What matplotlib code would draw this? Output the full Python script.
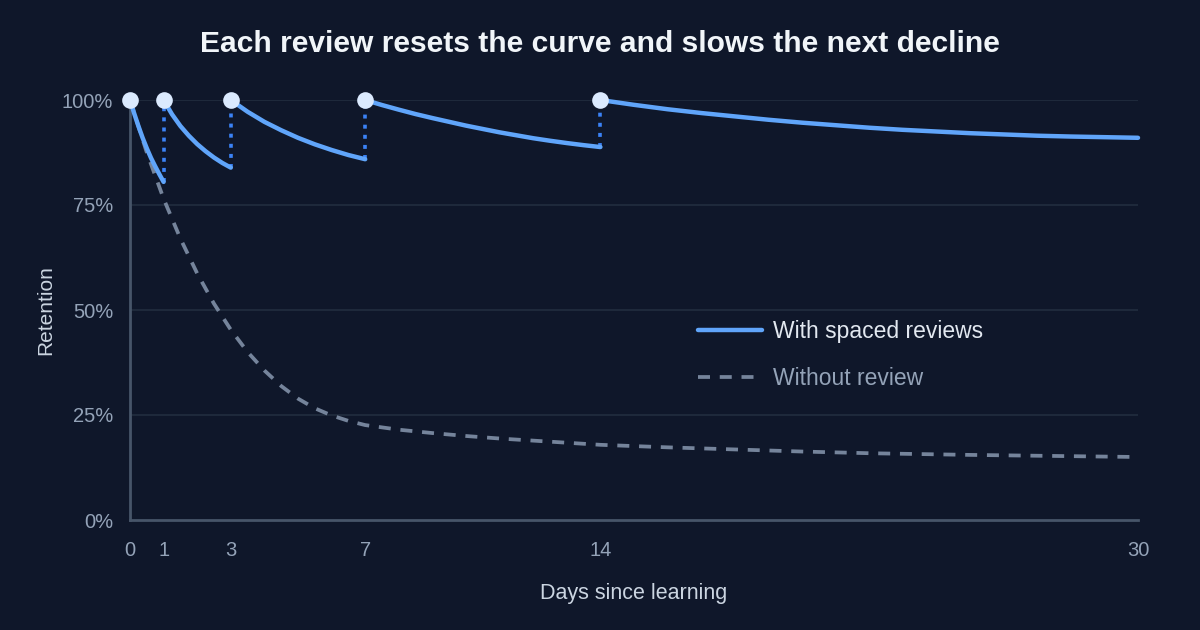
import matplotlib
matplotlib.use("Agg")
import matplotlib.pyplot as plt
from matplotlib.lines import Line2D

plt.rcParams['font.family'] = ['Liberation Sans', 'DejaVu Sans']

# retention (percent)
review_days = [0, 1, 3, 7, 14]
review_drop = [80.5, 83.9, 85.9, 88.8]   # value just before each review at days 1, 3, 7, 14

seg1_days = [0, 0.125, 0.25, 0.375, 0.5, 0.625, 0.75, 0.875, 1]
seg1_ret = [100, 96.8, 93.8, 91.0, 88.5, 86.2, 84.2, 82.3, 80.5]
seg2_days = [1, 1.25, 1.5, 1.75, 2, 2.25, 2.5, 2.75, 3]
seg2_ret = [100, 96.6, 93.8, 91.5, 89.5, 87.8, 86.3, 85.0, 83.9]
seg3_days = [3, 3.5, 4, 4.5, 5, 5.5, 6, 6.5, 7]
seg3_ret = [100, 97.2, 94.8, 92.8, 91.0, 89.45, 88.1, 86.9, 85.9]
seg4_days = [7, 7.5, 8, 8.5, 9, 9.5, 10, 10.5, 11, 11.5, 12, 12.5, 13, 13.5, 14]
seg4_ret = [100, 98.8, 97.7, 96.65, 95.7, 94.8, 93.9, 93.1, 92.3, 91.6, 90.9, 90.3, 89.75, 89.25, 88.8]
seg5_days = [14, 15, 16, 17, 18, 19, 20, 21, 22, 23, 24, 25, 26, 27, 28, 29, 30]
seg5_ret = [100, 98.85, 97.8, 96.9, 96.1, 95.3, 94.6, 94.0, 93.4, 92.9, 92.5, 92.1, 91.8, 91.5, 91.3, 91.15, 91.0]

noreview_days = [0, 0.5, 1, 1.5, 2, 2.5, 3, 3.5, 4, 4.5, 5, 5.5, 6, 6.5, 7,
                 8, 9, 10, 11, 12, 13, 14, 16, 18, 20, 22, 25, 30]
noreview_ret = [100, 87.5, 76.5, 67.0, 58.7, 51.5, 45.3, 40.0, 35.6, 31.9, 28.9, 26.6, 24.9, 23.6, 22.6,
                21.5, 20.7, 20.0, 19.4, 18.9, 18.4, 17.9, 17.3, 16.8, 16.3, 15.9, 15.5, 15.0]

xticks = [0, 1, 3, 7, 14, 30]
yticks = [0, 25, 50, 75, 100]

bg = '#0f172a'
blue = '#60a5fa'
blue_dark = '#3b82f6'
gray_line = '#75849b'
tick_col = '#94a3b8'

fig = plt.figure(figsize=(12, 6.3), dpi=100, facecolor=bg)
ax = fig.add_axes([130/1200, 1 - 520/630, 1008/1200, 420/630])
ax.set_facecolor(bg)

for y in [25, 50, 75, 100]:
    ax.axhline(y, color='#1e293b', lw=1.5, zorder=0)

ax.plot(noreview_days, noreview_ret, color=gray_line, lw=2.7, dashes=(3.2, 2.6),
        solid_capstyle='butt', zorder=2, clip_on=False)

# dotted drops at each review
for d, v in zip(review_days[1:], review_drop):
    ax.plot([d, d], [v, 100], color=blue_dark, lw=2.6, ls=(0, (1.1, 1.7)), zorder=3)

for xs, ys in [(seg1_days, seg1_ret), (seg2_days, seg2_ret), (seg3_days, seg3_ret),
               (seg4_days, seg4_ret), (seg5_days, seg5_ret)]:
    ax.plot(xs, ys, color=blue, lw=3.2, solid_capstyle='round', solid_joinstyle='round',
            zorder=4, clip_on=False)

ax.plot(review_days, [100] * len(review_days), 'o', color='#dbeafe', ms=12,
        mec='none', zorder=5, clip_on=False)

ax.set_xlim(0, 30)
ax.set_ylim(0, 100)
ax.set_xticks(xticks)
ax.set_xticklabels([str(x) for x in xticks])
ax.set_yticks(yticks)
ax.set_yticklabels([f'{y}%' for y in yticks])
ax.tick_params(length=0, colors=tick_col, labelsize=14.5)
ax.tick_params(axis='y', pad=12)
ax.tick_params(axis='x', pad=15)

for s in ['top', 'right']:
    ax.spines[s].set_visible(False)
for s in ['left', 'bottom']:
    ax.spines[s].set_color('#475569')
    ax.spines[s].set_linewidth(2)

ax.set_ylabel('Retention', color='#cbd5e1', fontsize=15, labelpad=5)
ax.set_xlabel('Days since learning', color='#cbd5e1', fontsize=15.5, labelpad=17)

fig.text(0.5, 1 - 44/630, 'Each review resets the curve and slows the next decline',
         ha='center', va='center', fontsize=21.6, fontweight='bold', color='#f1f5f9')

handles = [Line2D([], [], color=blue, lw=3.2, solid_capstyle='round'),
           Line2D([], [], color=gray_line, lw=2.7, dashes=(3.2, 2.6))]
leg = ax.legend(handles, ['With spaced reviews', 'Without review'],
                loc='upper left', bbox_to_anchor=(698/1200, 1 - 320/630),
                bbox_transform=fig.transFigure, frameon=False, fontsize=16.5,
                borderpad=0, borderaxespad=0,
                handlelength=2.8, handletextpad=0.48, labelspacing=1.05)
leg.get_texts()[0].set_color('#e2e8f0')
leg.get_texts()[1].set_color(tick_col)

fig.savefig('out.png', dpi=100, facecolor=bg)
